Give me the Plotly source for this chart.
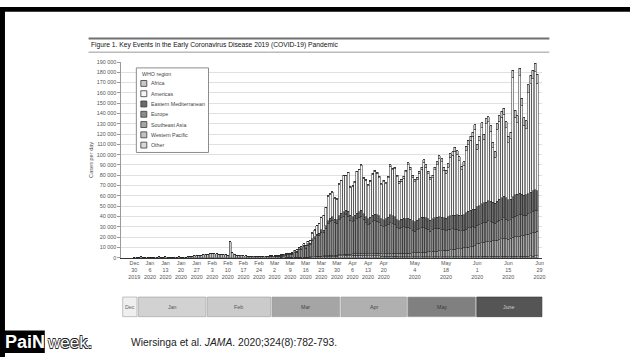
import plotly.graph_objects as go
import pandas as pd

# ---------------- data (cases per day) ----------------
start_date = "2019-12-30"
end_date = "2020-06-28"

western_pacific = [
    0, 300,
    500, 700, 500, 200, 100, 100, 100, 100, 300, 700, 600, 300, 700, 600, 400, 500,
    600, 600, 700, 600, 500, 600, 700, 900, 1600, 2000, 2200, 2300, 2600, 2900, 3100,
    3500, 3800, 4300, 4000, 3600, 3500, 3000, 3100, 2800, 2400, 15500, 4800, 3200, 2500,
    2300, 2100, 1900, 1700, 1500, 1400, 1300, 1200, 1100, 900, 800, 900, 1000, 900, 1100,
    900, 700, 800, 700, 600, 700, 500, 400, 300, 300, 300, 300, 400, 300, 400, 400,
    500, 600, 700, 800, 900, 1000, 1000, 1200, 1300, 1400, 1500, 1600, 1500, 1600, 1800,
    1900, 2000, 2200, 2100, 2000, 2200, 2400, 2300, 2200, 2500, 2400, 2100, 2000, 1900, 1800,
    1700, 1900, 1800, 1600, 1500, 1400, 1300, 1400, 1300, 1200, 1200, 1100, 1000, 1100, 1000,
    1000, 900, 900, 800, 900, 900, 1000, 900, 800, 900, 800, 900, 800, 900, 800, 900,
    800, 800, 900, 900, 1000, 1000, 900, 1000, 1000, 1100, 1000, 1100, 1200, 1100, 1100,
    1100, 1200, 1200, 1300, 1300, 1200, 1300, 1200, 1300, 1400, 1300, 1400, 1500, 1400,
    1300, 1400, 1500, 1600, 1500, 1400, 1500, 1600, 1500, 1600, 1700, 1600, 1700, 1800,
]
southeast_asia = [
    0, 0,
    0, 0, 0, 0, 0, 0, 0, 0, 0, 0, 0, 0, 0, 0, 0, 0, 0, 0, 0, 0, 0, 0, 0, 0, 0, 0, 0, 0, 0, 0, 0,
    0, 0, 0, 0, 0, 0, 0, 0, 0, 0, 0, 0, 0, 0, 0, 0, 0, 0, 0, 0, 0, 0, 0, 0, 0, 0, 0, 0, 0,
    0, 10, 20, 20, 30, 30, 40, 40, 50, 60, 70, 80, 100, 100, 120, 150,
    150, 200, 200, 250, 300, 350, 400, 450, 500, 600, 700, 800, 700, 900, 1000,
    1100, 1200, 1300, 1200, 1300, 1500, 1400, 1600, 1700, 1800, 1700, 1900, 2000, 2100, 2000,
    2200, 2300, 2300, 2400, 2300, 2500, 2600, 2700, 2800, 2900, 2800, 3000, 3100, 3000, 3200,
    3400, 3300, 3700, 4000, 4200, 4300, 4500, 4400, 4600, 4800, 5000, 5200, 5100, 5400, 5700, 5900,
    6200, 6400, 6300, 6700, 7000, 7300, 7600, 7800, 8100, 8400, 8700, 9000, 9300, 9800, 10300,
    12500, 12800, 13200, 13600, 14000, 14500, 14800, 15300, 15000, 15600, 16200, 16800, 17200, 17000,
    16800, 17500, 18200, 18600, 19200, 19600, 20000, 20400, 20800, 21300, 22000, 22600, 23200, 23800,
]
europe = [
    0, 0,
    0, 0, 0, 0, 0, 0, 0, 0, 0, 0, 0, 0, 0, 0, 0, 0, 0, 0, 0, 0, 0, 0, 0, 0, 0, 0, 0, 0, 0, 0, 0,
    0, 0, 0, 0, 0, 0, 0, 0, 0, 0, 0, 0, 0, 0, 0, 0, 0, 0, 0, 0, 20, 60, 80, 100, 100, 150, 250, 300, 450,
    600, 550, 650, 800, 1000, 1300, 1800, 2200, 2500, 2900, 4500, 4800, 7000, 7800, 10000, 8600,
    11500, 11700, 16000, 17500, 20000, 20500, 23500, 23000, 27000, 31000, 33000, 34000, 32000, 31000, 34000,
    36000, 37000, 38000, 37000, 33000, 31000, 32000, 34000, 35000, 36000, 33000, 30000, 28000, 29000, 31000,
    32000, 31000, 30000, 27000, 26000, 27000, 28000, 30000, 29000, 28000, 25000, 24000, 25000, 26000, 25000,
    25000, 24000, 22000, 21000, 22000, 23000, 24000, 24000, 23000, 22000, 20000, 21000, 22000, 22000, 22000, 21000,
    20000, 19000, 20000, 20000, 20000, 19000, 19000, 18000, 17000, 17000, 18000, 19000, 19000, 19000, 18000,
    18000, 18000, 19000, 19000, 19000, 20000, 19000, 18000, 17000, 18000, 19000, 19000, 20000, 19000,
    18000, 18000, 19000, 20000, 20000, 21000, 20000, 19000, 19000, 20000, 20000, 21000, 21000, 20000,
]
eastern_mediterranean = [
    0, 0,
    0, 0, 0, 0, 0, 0, 0, 0, 0, 0, 0, 0, 0, 0, 0, 0, 0, 0, 0, 0, 0, 0, 0, 0, 0, 0, 0, 0, 0, 0, 0,
    0, 0, 0, 0, 0, 0, 0, 0, 0, 0, 0, 0, 0, 0, 0, 0, 0, 0, 2, 3, 10, 20, 40, 50, 60, 80, 150, 200, 250,
    400, 500, 600, 700, 800, 1000, 1100, 1200, 1000, 900, 1000, 1100, 1300, 1400, 1500, 1300,
    1300, 1400, 1600, 1800, 1700, 1900, 2100, 2200, 2400, 2800, 3000, 3200, 3300, 3500, 3900,
    4200, 4500, 4600, 4800, 5000, 5100, 5300, 5400, 5600, 5700, 5800, 5900, 6000, 6100, 6300,
    6400, 6500, 6600, 6800, 7000, 7100, 7200, 7400, 7600, 7800, 7900, 8000, 8200, 8400, 8600,
    8800, 9000, 9100, 9300, 9400, 9600, 9800, 10000, 10200, 10300, 10500, 10700, 10900, 11100, 11300, 11600,
    11900, 12200, 12600, 13000, 13400, 13800, 14200, 14600, 15000, 15400, 15800, 16200, 16600, 17000, 17500,
    18000, 18500, 19000, 19300, 19600, 19800, 19500, 19200, 19600, 20000, 20400, 20800, 21000, 20600,
    20200, 20000, 20400, 20800, 21000, 20600, 20200, 19800, 19600, 19400, 19600, 19800, 20000, 19600,
]
americas = [
    0, 0,
    0, 0, 0, 0, 0, 0, 0, 0, 0, 0, 0, 0, 0, 0, 0, 0, 0, 0, 0, 0, 0, 0, 0, 0, 0, 0, 0, 0, 0, 0, 0,
    0, 0, 0, 0, 0, 0, 0, 0, 0, 0, 0, 0, 0, 0, 0, 0, 0, 0, 0, 0, 0, 0, 0, 0, 0, 0, 0, 0, 0,
    0, 340, 230, 280, 270, 170, 260, 160, 250, 430, 1100, 1200, 1200, 1160, 1430, 1490,
    2470, 3000, 5380, 6510, 7940, 9070, 11800, 13920, 17540, 23910, 23480, 24050, 20120, 19580, 30840,
    31300, 34750, 33300, 37250, 27000, 29480, 32150, 39920, 40700, 43150, 34200, 35200, 32050, 34900, 39850,
    41600, 40150, 37100, 32950, 36900, 33650, 38500, 47050, 44800, 46550, 41500, 36250, 37000, 38750, 45400,
    51950, 48900, 42300, 38850, 39400, 44000, 46450, 53400, 49000, 43550, 39200, 39600, 46550, 50900, 56400, 53700,
    46100, 43500, 48000, 57100, 58200, 62400, 58700, 52900, 44100, 47200, 60500, 64600, 67700, 70800, 77700,
    55900, 62900, 73900, 62000, 76200, 76500, 68300, 53100, 44800, 69600, 75600, 78300, 79400, 68000,
    55500, 58700, 116300, 75200, 69300, 114200, 85900, 67600, 64300, 97700, 105500, 108600, 114500, 104000,
]
africa = [
    0, 0,
    0, 0, 0, 0, 0, 0, 0, 0, 0, 0, 0, 0, 0, 0, 0, 0, 0, 0, 0, 0, 0, 0, 0, 0, 0, 0, 0, 0, 0, 0, 0,
    0, 0, 0, 0, 0, 0, 0, 0, 0, 0, 0, 0, 0, 0, 0, 0, 0, 0, 0, 0, 0, 0, 0, 0, 0, 0, 0, 0, 0,
    0, 0, 0, 0, 1, 1, 2, 3, 5, 10, 15, 20, 25, 40, 50, 60,
    80, 100, 120, 140, 160, 180, 200, 230, 260, 290, 320, 350, 380, 420, 460,
    500, 550, 600, 650, 700, 720, 750, 780, 800, 850, 900, 900, 950, 1000, 1050,
    1100, 1150, 1200, 1250, 1300, 1350, 1400, 1450, 1500, 1550, 1600, 1650, 1700, 1750, 1800,
    1850, 1900, 2000, 2050, 2100, 2200, 2250, 2300, 2400, 2450, 2500, 2600, 2650, 2700, 2800, 2900,
    3000, 3100, 3200, 3300, 3400, 3500, 3600, 3700, 3800, 3900, 4000, 4100, 4200, 4300, 4400,
    4500, 4600, 4700, 4800, 4900, 5000, 5100, 5200, 5300, 5400, 5500, 5700, 5900, 6000,
    6200, 6400, 6600, 6800, 7000, 7200, 7400, 7600, 7800, 8000, 8200, 8400, 8600, 8800,
]
other = [
    0, 0,
    0, 0, 0, 0, 0, 0, 0, 0, 0, 0, 0, 0, 0, 0, 0, 0, 0, 0, 0, 0, 0, 0, 0, 0, 0, 0, 0, 0, 0, 0, 0,
    0, 0, 0, 0, 10, 10, 41, 3, 6, 65, 0, 39, 44, 0, 67, 70, 99, 88, 79, 13, 0, 0, 0, 0, 0, 0, 0, 0, 0,
    0, 0, 0, 0, 0, 0, 0, 0, 0, 0, 0, 0, 0, 0, 0, 0,
    0, 0, 0, 0, 0, 0, 0, 0, 0, 0, 0, 0, 0, 0, 0,
    0, 0, 0, 0, 0, 0, 0, 0, 0, 0, 0, 0, 0, 0, 0,
    0, 0, 0, 0, 0, 0, 0, 0, 0, 0, 0, 0, 0, 0, 0,
    0, 0, 0, 0, 0, 0, 0, 0, 0, 0, 0, 0, 0, 0, 0, 0,
    0, 0, 0, 0, 0, 0, 0, 0, 0, 0, 0, 0, 0, 0, 0,
    0, 0, 0, 0, 0, 0, 0, 0, 0, 0, 0, 0, 0, 0,
    0, 0, 0, 0, 0, 0, 0, 0, 0, 0, 0, 0, 0, 0,
]

# x tick labels
tick_dates = ["2019-12-30", "2020-01-06", "2020-01-13", "2020-01-20", "2020-01-27",
              "2020-02-03", "2020-02-10", "2020-02-17", "2020-02-24", "2020-03-02",
              "2020-03-09", "2020-03-16", "2020-03-23", "2020-03-30", "2020-04-06",
              "2020-04-13", "2020-04-20", "2020-05-04", "2020-05-18", "2020-06-01",
              "2020-06-15", "2020-06-29"]
tick_month = ["Dec", "Jan", "Jan", "Jan", "Jan", "Feb", "Feb", "Feb", "Feb", "Mar", "Mar",
              "Mar", "Mar", "Mar", "Apr", "Apr", "Apr", "May", "May", "Jun", "Jun", "Jun"]
tick_day = ["30", "6", "13", "20", "27", "3", "10", "17", "24", "2", "9", "16", "23", "30",
            "6", "13", "20", "4", "18", "1", "15", "29"]
tick_year = ["2019", "2020", "2020", "2020", "2020", "2020", "2020", "2020", "2020", "2020", "2020",
             "2020", "2020", "2020", "2020", "2020", "2020", "2020", "2020", "2020", "2020", "2020"]

# month timeline strip
month_labels = ["Dec", "Jan", "Feb", "Mar", "Apr", "May", "June"]
month_starts = ["2019-12-25", "2020-01-01", "2020-02-01", "2020-03-01", "2020-04-01", "2020-05-01", "2020-06-01"]
month_ends = ["2020-01-01", "2020-02-01", "2020-03-01", "2020-04-01", "2020-05-01", "2020-06-01", "2020-07-01"]
month_fills = ["#efefef", "#d2d2d2", "#cbcbcb", "#a5a5a5", "#b0b0b0", "#808080", "#555555"]
month_text = ["#666666", "#555555", "#555555", "#444444", "#444444", "#3a3a3a", "#cfcfcf"]

# stacking order bottom -> top, with fills
series = [
    ("Western Pacific", western_pacific, "#c2c2c2"),
    ("Southeast Asia", southeast_asia, "#a6a6a6"),
    ("Europe", europe, "#8a8a8a"),
    ("Eastern Mediterranean", eastern_mediterranean, "#6c6c6c"),
    ("Americas", americas, "#f6f6f6"),
    ("Africa", africa, "#c8c8c8"),
    ("Other", other, "#d8d8d8"),
]
legend_order = ["Africa", "Americas", "Eastern Mediterranean", "Europe",
                "Southeast Asia", "Western Pacific", "Other"]

# ---------------- figure ----------------
W, H = 633, 360
def px(x):
    return x / W
def py(y):
    return 1 - y / H

dates = pd.date_range(start_date, end_date, freq="D")
FONT = "Liberation Sans, Arial, sans-serif"

fig = go.Figure()
for name, vals, col in series:
    fig.add_trace(go.Bar(
        x=dates, y=vals, name=name,
        marker=dict(color=col, line=dict(color="#262626", width=0.5)),
        showlegend=False,
    ))

shapes = []
annotations = []

# black slide frame (top and left)
shapes.append(dict(type="rect", xref="paper", yref="paper", x0=0, x1=1, y0=py(9), y1=py(4),
                   fillcolor="black", line=dict(width=0), layer="above"))
shapes.append(dict(type="rect", xref="paper", yref="paper", x0=0, x1=px(5), y0=0, y1=py(4),
                   fillcolor="black", line=dict(width=0), layer="above"))

# title rules
shapes.append(dict(type="line", xref="paper", yref="paper", x0=px(89), x1=px(552), y0=py(36), y1=py(36),
                   line=dict(color="#707070", width=2)))
shapes.append(dict(type="line", xref="paper", yref="paper", x0=px(89), x1=px(552), y0=py(50), y1=py(50),
                   line=dict(color="#9a9a9a", width=1)))
annotations.append(dict(text="Figure 1. Key Events in the Early Coronavirus Disease 2019 (COVID-19) Pandemic",
                        xref="paper", yref="paper", x=px(89), y=py(43), xanchor="left", yanchor="middle",
                        showarrow=False, font=dict(size=6.7, color="#111111", family=FONT)))

# y axis title
annotations.append(dict(text="Cases per day", xref="paper", yref="paper", x=px(92), y=py(160),
                        textangle=-90, showarrow=False, xanchor="center", yanchor="middle",
                        font=dict(size=5.6, color="#555555", family=FONT)))

# legend (drawn as a box with swatches)
shapes.append(dict(type="rect", xref="paper", yref="paper", x0=px(137), x1=px(209.5), y0=py(152), y1=py(66),
                   fillcolor="white", line=dict(color="#8c8c8c", width=1), layer="above"))
annotations.append(dict(text="WHO region", xref="paper", yref="paper", x=px(141), y=py(72),
                        xanchor="left", yanchor="middle", showarrow=False,
                        font=dict(size=5.3, color="#444444", family=FONT)))
colmap = {n: c for n, _, c in series}
for i, name in enumerate(legend_order):
    yc = 81.8 + i * 10.45
    shapes.append(dict(type="rect", xref="paper", yref="paper", x0=px(141.5), x1=px(147.5),
                       y0=py(yc + 3), y1=py(yc - 3), fillcolor=colmap[name],
                       line=dict(color="#3a3a3a", width=0.8), layer="above"))
    annotations.append(dict(text=name, xref="paper", yref="paper", x=px(149.5), y=py(yc),
                            xanchor="left", yanchor="middle", showarrow=False,
                            font=dict(size=5.3, color="#444444", family=FONT)))

# month strip
for lab, s, e, fc, tc in zip(month_labels, month_starts, month_ends, month_fills, month_text):
    x0 = pd.Timestamp(s) - pd.Timedelta(hours=12) + pd.Timedelta(hours=7)
    x1 = pd.Timestamp(e) - pd.Timedelta(hours=12) - pd.Timedelta(hours=7)
    shapes.append(dict(type="rect", xref="x", yref="paper", x0=x0, x1=x1, y0=py(319), y1=py(299),
                       fillcolor=fc, line=dict(color="#9a9a9a" if lab != "June" else "#333333", width=0.6)))
    mid = x0 + (x1 - x0) / 2
    annotations.append(dict(text=lab, xref="x", yref="paper", x=mid, y=py(309), showarrow=False,
                            xanchor="center", yanchor="middle",
                            font=dict(size=5.3, color=tc, family=FONT)))

# logo and citation
shapes.append(dict(type="rect", xref="paper", yref="paper", x0=px(5), x1=px(45), y0=py(356), y1=py(333),
                   fillcolor="black", line=dict(width=0)))
annotations.append(dict(text="<b>PaiN</b>", xref="paper", yref="paper", x=px(25), y=py(345), showarrow=False,
                        xanchor="center", yanchor="middle",
                        font=dict(size=18, color="#ffffff", family=FONT)))
annotations.append(dict(text="week.", xref="paper", yref="paper", x=px(45), y=py(345.5), showarrow=False,
                        xanchor="left", yanchor="middle",
                        font=dict(size=17, color="#ffffff", family=FONT,
                                  shadow="0.6px 0.6px 0 #222, -0.6px -0.6px 0 #222, 0.6px -0.6px 0 #222, -0.6px 0.6px 0 #222")))
annotations.append(dict(text="Wiersinga et al. <i>JAMA</i>. 2020;324(8):782-793.", xref="paper", yref="paper",
                        x=px(130), y=py(345), showarrow=False, xanchor="left", yanchor="middle",
                        font=dict(size=10.3, color="#222222", family=FONT)))

fig.update_layout(
    width=W, height=H,
    margin=dict(l=0, r=0, t=0, b=0),
    paper_bgcolor="white", plot_bgcolor="white",
    barmode="stack", bargap=0.1,
    separators=". ",
    shapes=shapes, annotations=annotations,
    xaxis=dict(
        type="date", domain=[px(122), px(545)],
        range=["2019-12-24 05:00", "2020-06-30 07:00"],
        tickvals=tick_dates,
        ticktext=[f"{m}<br>{d}<br>{y}" for m, d, y in zip(tick_month, tick_day, tick_year)],
        tickfont=dict(size=5.4, color="#555555", family=FONT),
        showgrid=False, showline=True, linecolor="#333333", linewidth=1, ticks="",
        zeroline=False, fixedrange=True,
    ),
    yaxis=dict(
        domain=[py(259), py(60)], range=[0, 190000], dtick=10000, tickformat=",d",
        tickfont=dict(size=5.4, color="#555555", family=FONT),
        showgrid=True, gridcolor="#e0e0e0", gridwidth=1,
        showline=True, linecolor="#9a9a9a", linewidth=1,
        ticks="outside", ticklen=3, tickcolor="#9a9a9a", zeroline=False,
    ),
)

fig.write_html("out.html", config={"displayModeBar": False},
               post_script="document.body.style.margin='0';document.body.style.overflow='hidden';")
